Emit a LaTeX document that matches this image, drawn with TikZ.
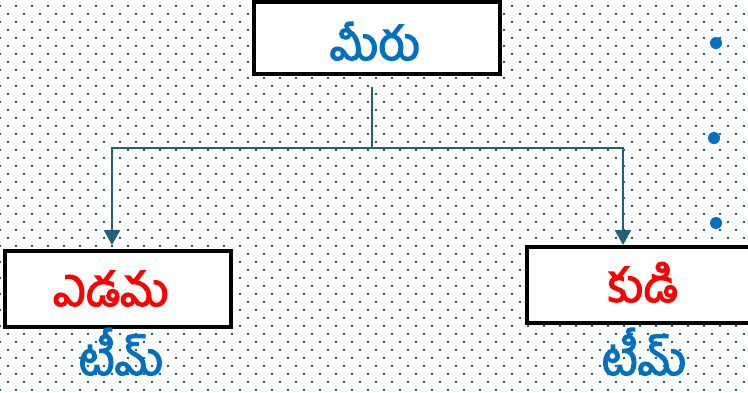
\documentclass[tikz,border=0pt]{standalone}
\usepackage{fontspec}
\newfontfamily\telugu[Script=Telugu]{Hind Guntur}
\usetikzlibrary{arrows.meta,positioning,calc}
\definecolor{dotteal}{HTML}{1B5E7E}
\definecolor{linkteal}{HTML}{1F5F80}
\definecolor{txtblue}{HTML}{0070C0}
\definecolor{txtred}{HTML}{FF0000}
% heavier strokes for the Telugu words
\newcommand{\heavy}[1]{\special{pdf:literal 2 Tr 1.3 w}#1\special{pdf:literal 0 Tr}}

\begin{document}
\begin{tikzpicture}[x=1pt, y=-1pt,
    box/.style={draw=black, line width=3.5pt, fill=white, inner sep=0pt},
    word/.style={inner sep=0pt, anchor=base, text depth=0pt, font=\telugu\fontsize{46}{50}\selectfont},
    link/.style={draw=linkteal, line width=2.7pt},
    bullet/.style={circle, fill=txtblue, inner sep=0pt, minimum size=12pt}]
                    \useasboundingbox (0,0) rectangle (748,392);
                    \clip (0,0) rectangle (748,392);
                    % dotted background
                    \foreach \r in {0,...,48} {
                        \foreach \c in {0,...,47} {
                            \pgfmathsetmacro\dx{16*\c + 8*mod(\r,2)}
                            \pgfmathsetmacro\dy{6 + 8*\r}
                            \fill[dotteal] (\dx-1,\dy-1) rectangle (\dx+1,\dy+1);
                        }
                    }
                    \node[box, minimum width=246pt, minimum height=72pt] (meeru) at (377,38) {};
                    \node[box, minimum width=226pt, minimum height=76pt] (edama) at (118,289) {};
                    \node[box, minimum width=232pt, minimum height=76pt] (kudi) at (643,285) {};
                    % texts set on their base lines
                    \node[word, text=txtblue] (meerutxt) at (375,60) {\heavy{మీరు}};
                    \node[word, text=txtred] (edamatxt) at (111,306) {\heavy{ఎడమ}};
                    \node[word, text=txtred] (kuditxt) at (643,302) {\heavy{కుడి}};
                    \node[word, text=txtblue] (lteam) at (121,375) {\heavy{టీమ్}};
                    \node[word, text=txtblue] (rteam) at (644,375) {\heavy{టీమ్}};
                    \coordinate (stem) at (372,87);
                    \coordinate (bar) at (372,148);
                    \coordinate (ltip) at (112,245);
                    \coordinate (rtip) at (623,245);
                    \draw[link] (stem) -- (bar);
                    \draw[link, -{Triangle[width=16pt, length=15pt]}] (bar) -| (ltip);
                    \draw[link, -{Triangle[width=16pt, length=15pt]}] (bar) -| (rtip);
                    \node[bullet] (b1) at (716,43) {};
                    \node[bullet] (b2) at (714,138) {};
                    \node[bullet] (b3) at (716,223) {};
                \end{tikzpicture}
\end{document}
